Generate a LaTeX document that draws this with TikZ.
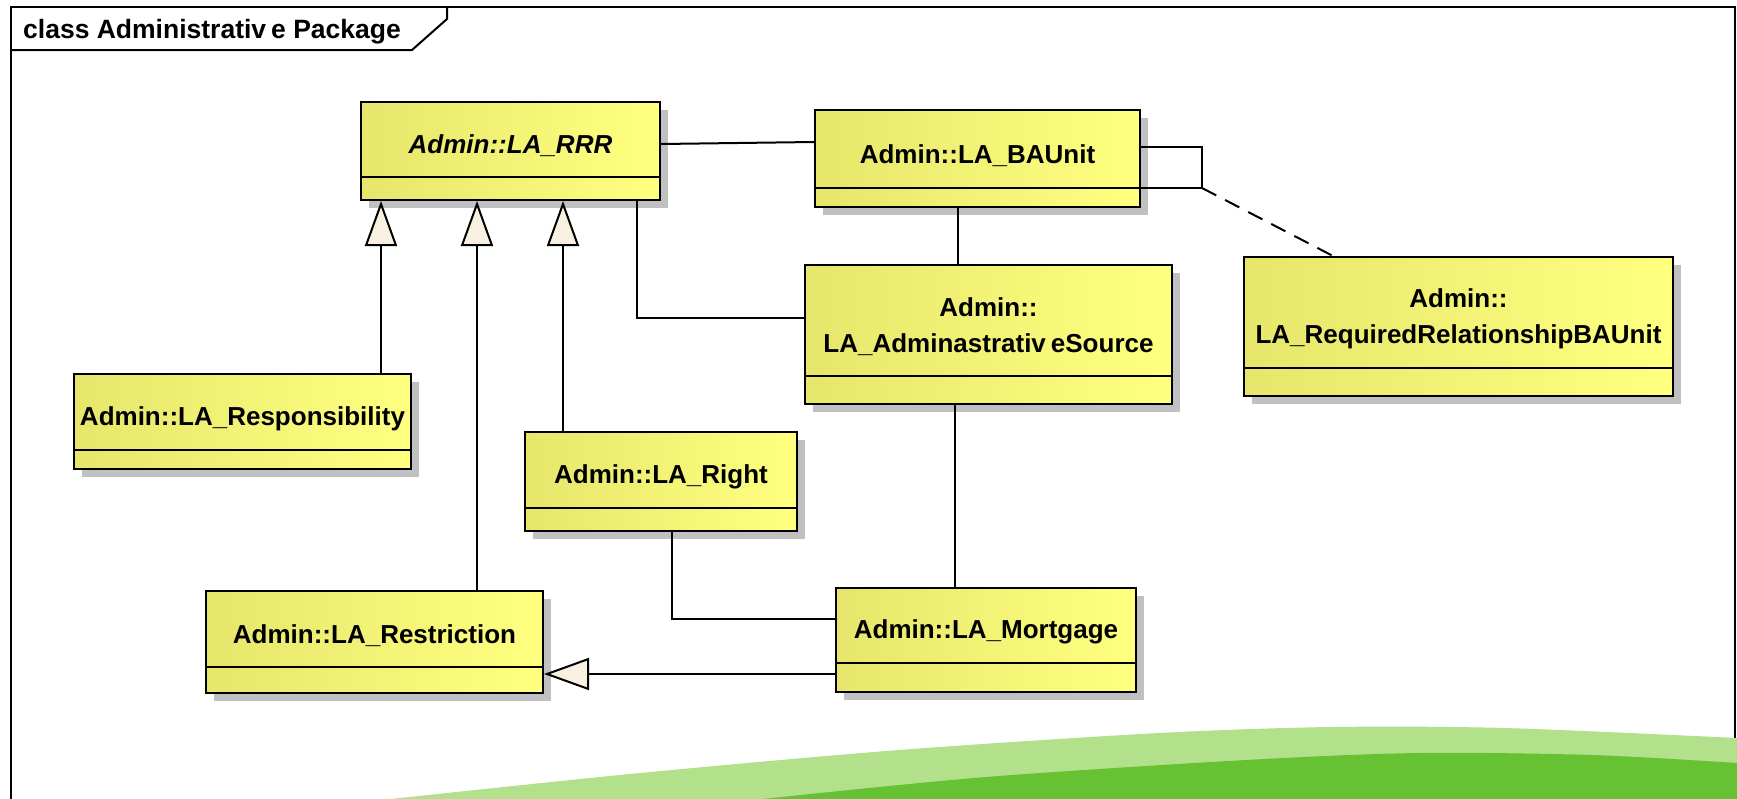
\documentclass[tikz,border=0pt]{standalone}
\usepackage{fontspec}
\setmainfont{Liberation Sans}
\usetikzlibrary{arrows.meta,shadows,calc}

\definecolor{boxL}{HTML}{E6E66C}
\definecolor{boxM}{HTML}{FAFA7B}
\definecolor{boxR}{HTML}{FFFF80}
\definecolor{shadowgray}{HTML}{C0C0C0}
\definecolor{cream}{HTML}{FAF0E2}
\definecolor{lightgreen}{HTML}{B3E08B}
\definecolor{darkgreen}{HTML}{66C232}

\tikzset{
  classbox/.style={draw=black, line width=2pt, left color=boxL, middle color=boxM,
    right color=boxR, inner sep=0pt, anchor=north west,
    drop shadow={shadow xshift=8pt, shadow yshift=-8pt, fill=shadowgray, opacity=1}},
  classname/.style={font=\bfseries\fontsize{26}{36}\selectfont, align=center, inner sep=0pt},
  titletext/.style={font=\bfseries\fontsize{26.5}{30}\selectfont, anchor=base west, inner sep=0pt},
  frameline/.style={line width=2pt, line join=miter},
  assoc/.style={line width=2pt},
  reqdash/.style={line width=2pt, dash pattern=on 16pt off 10pt},
  gen/.style={line width=2pt, -{Triangle[length=45pt, width=32pt, fill=cream]}},
}

% class box: name, x, y, width, height, bottom compartment height, label
\newcommand\umlclass[7]{%
  \node[classbox, minimum width=#4pt, minimum height=#5pt] (#1) at (#2,#3) {};
  \draw[assoc] ($(#1.south west)+(0,-#6)$) -- ($(#1.south east)+(0,-#6)$);
  \node[classname] (#1-name) at ($(#1.north)!0.5!(#1.south)+(0,{7-#6/2})$) {#7};
}

\begin{document}
\begin{tikzpicture}[x=1pt,y=-1pt]
\useasboundingbox (0,0) rectangle (1737,798);
\clip (0,0) rectangle (1737,798);
\fill[white] (0,0) rectangle (1737,798);

% diagram frame and its title tab
\draw[frameline] (11,820) -- (11,7) -- (1735,7) -- (1735,820);
\draw[frameline] (447,7) -- (447,19) -- (412,50) -- (11,50);
\node[titletext] (title) at (23,38) {class Administrativ\kern5pt e Package};

% green swoosh along the bottom
\fill[lightgreen] (280,810) -- plot[smooth] coordinates {(400,798) (640,773) (899,750) (1159,733) (1332,727) (1505,728) (1737,738)} -- (1760,742) -- (1760,820) -- (280,820) -- cycle;
\fill[darkgreen] (650,810) -- plot[smooth] coordinates {(772,798) (986,777) (1246,760) (1419,753) (1592,755) (1737,763)} -- (1760,766) -- (1760,820) -- (650,820) -- cycle;

% classes
\umlclass{rrr}{360}{101}{299}{98}{24}{\itshape Admin::LA\_RRR}
\umlclass{bau}{814}{109}{325}{97}{20}{Admin::LA\_BAUnit}
\umlclass{src}{804}{264}{367}{139}{29}{Admin::\\LA\_Adminastrativ\kern5pt eSource}
\umlclass{req}{1243}{256}{429}{139}{29}{Admin::\\LA\_RequiredRelationshipBAUnit}
\umlclass{resp}{73}{373}{337}{95}{20}{Admin::LA\_Responsibility}
\umlclass{right}{524}{431}{272}{99}{24}{Admin::LA\_Right}
\umlclass{restr}{205}{590}{337}{102}{27}{Admin::LA\_Restriction}
\umlclass{mort}{835}{587}{300}{104}{30}{Admin::LA\_Mortgage}

% routing points
\coordinate (g1) at (381,0);
\coordinate (g2) at (477,0);
\coordinate (g3) at (563,0);
\coordinate (v1) at (958,0);
\coordinate (v2) at (637,318);
\coordinate (v3) at (955,0);
\coordinate (v4) at (672,619);
\coordinate (loopc) at (1202,188);

% associations
\draw[assoc] ($(rrr.north east)+(0,43)$) -- ($(bau.north west)+(0,33)$);
\draw[assoc] ($(bau.north east)+(0,38)$) -| (loopc) -- ($(bau.north east)+(0,79)$);
\draw[reqdash] (loopc) -- ($(req.north west)+(90,0)$);
\draw[assoc] (bau.south -| v1) -- (src.north -| v1);
\draw[assoc] (rrr.south -| v2) |- (src.west |- v2);
\draw[assoc] (src.south -| v3) -- (mort.north -| v3);
\draw[assoc] (right.south -| v4) |- (mort.west |- v4);

% generalizations
\draw[gen] (resp.north -| g1) -- (rrr.south -| g1);
\draw[gen] (restr.north -| g2) -- (rrr.south -| g2);
\draw[gen] (right.north -| g3) -- (rrr.south -| g3);
\draw[gen] ($(mort.south west)+(0,-19)$) -- ($(restr.south east)+(0,-20)$);
\end{tikzpicture}
\end{document}
